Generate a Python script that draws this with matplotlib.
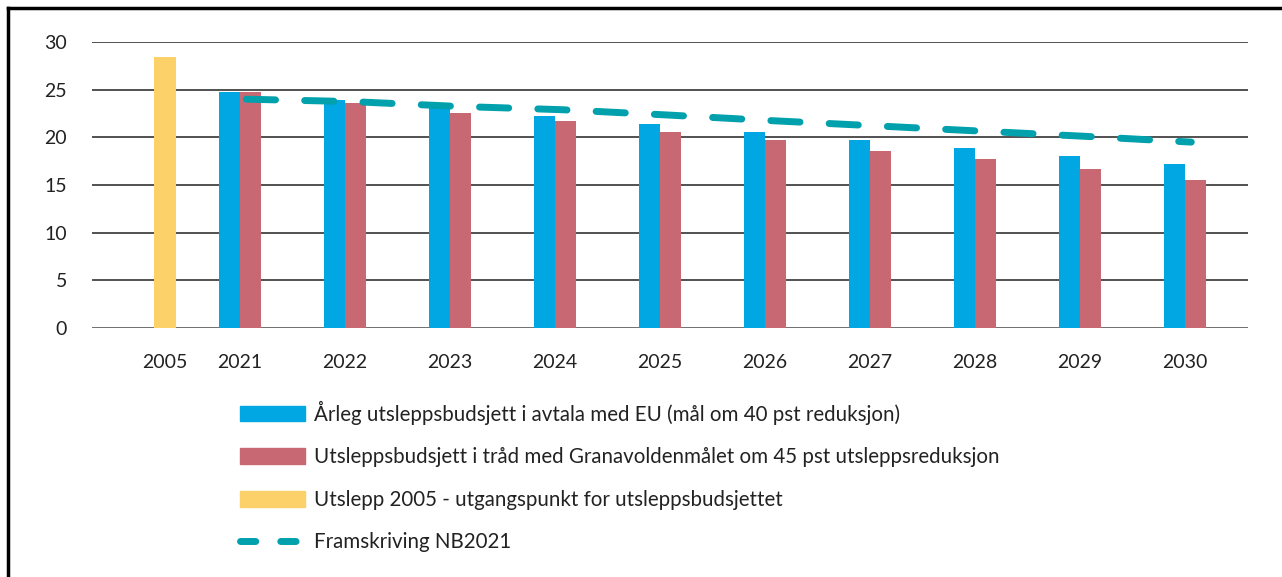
import matplotlib.pyplot as plt
from matplotlib.patches import Patch
from matplotlib.lines import Line2D
import numpy as np

plt.rcParams['font.family'] = ['Lato', 'DejaVu Sans']

# data
years = ['2005', '2021', '2022', '2023', '2024', '2025', '2026', '2027', '2028', '2029', '2030']
utslepp_2005 = 28.4
eu_budsjett = [24.8, 23.9, 23.1, 22.25, 21.4, 20.6, 19.75, 18.9, 18.05, 17.2]
granavolden = [24.8, 23.6, 22.55, 21.7, 20.6, 19.75, 18.6, 17.75, 16.65, 15.5]
framskriving = [24.0, 23.75, 23.25, 22.9, 22.35, 21.75, 21.2, 20.65, 20.1, 19.5]

labels = ['Årleg utsleppsbudsjett i avtala med EU (mål om 40 pst reduksjon)',
          'Utsleppsbudsjett i tråd med Granavoldenmålet om 45 pst utsleppsreduksjon',
          'Utslepp 2005 - utgangspunkt for utsleppsbudsjettet',
          'Framskriving NB2021']

c_blue = '#00A7E3'
c_red = '#C86873'
c_yellow = '#FDD16A'
c_teal = '#00A0AC'

fig = plt.figure(figsize=(12.82, 5.77), dpi=100)
ax = fig.add_axes([92 / 1282, 1 - 328 / 577, (1248 - 92) / 1282, (328 - 42) / 577])

pos_2005 = -0.715
x = np.arange(len(eu_budsjett))
w = 0.197

ax.bar(pos_2005, utslepp_2005, width=0.21, color=c_yellow, zorder=3)
ax.bar(x - w / 2, eu_budsjett, width=w, color=c_blue, zorder=3)
ax.bar(x + w / 2, granavolden, width=w, color=c_red, zorder=3)
ax.plot(x + 0.06, framskriving, color=c_teal, lw=5, dashes=(4.2, 4.2),
        dash_capstyle='round', zorder=4)

ax.set_xlim(-1.41, 9.6)
ax.set_ylim(0, 30)
ax.set_yticks(range(0, 31, 5))
ax.set_xticks([pos_2005] + list(x))
ax.set_xticklabels(years)
ax.tick_params(length=0, labelsize=14, colors='#222222')
ax.tick_params(axis='x', pad=19)
ax.tick_params(axis='y', pad=18)
ax.grid(axis='y', color='#333333', lw=1.2, zorder=0)
for s in ax.spines.values():
    s.set_visible(False)
ax.axhline(0, color='#777777', lw=2, zorder=2)

handles = [Patch(color=c_blue), Patch(color=c_red), Patch(color=c_yellow),
           Line2D([0], [0], color=c_teal, lw=5, dashes=(2.2, 3.6), dash_capstyle='round')]
fig.legend(handles, labels, loc='upper left', bbox_to_anchor=(221 / 1282, 1 - 382 / 577),
           frameon=False, fontsize=14.8, handlelength=3.2, handleheight=0.8,
           labelspacing=1.1, handletextpad=0.4, labelcolor='#222222')

# outer frame (top and left)
fig.add_artist(Line2D([8 / 1282, 8 / 1282], [0, 1 - 8 / 577], color='black', lw=2.5))
fig.add_artist(Line2D([8 / 1282, 1], [1 - 8 / 577, 1 - 8 / 577], color='black', lw=2.5))

fig.savefig('out.png', dpi=100)
